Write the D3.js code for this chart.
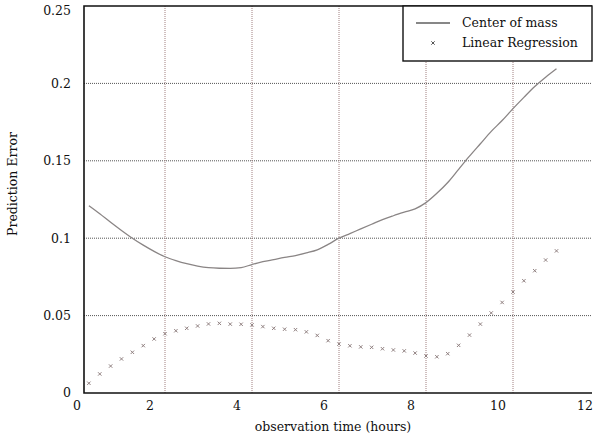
<!DOCTYPE html>
<html>
<head>
<meta charset="utf-8">
<script src="https://cdn.jsdelivr.net/npm/d3@7"></script>
<style>
  body { margin: 0; background: #fff; }
  svg text { font-family: "DejaVu Serif", "Liberation Serif", serif; fill: #111; }
</style>
</head>
<body>
<svg id="chart" width="593" height="440"></svg>
<script>
// observation time (hours)
const hours = [0.25, 0.5, 0.75, 1, 1.25, 1.5, 1.75, 2, 2.25, 2.5, 2.75, 3, 3.25, 3.5, 3.75, 4,
    4.25, 4.5, 4.75, 5, 5.25, 5.5, 5.75, 6, 6.25, 6.5, 6.75, 7, 7.25, 7.5, 7.75, 8,
    8.25, 8.5, 8.75, 9, 9.25, 9.5, 9.75, 10, 10.25, 10.5, 10.75, 11];

// prediction error, center of mass (line)
const centerOfMass = [0.121, 0.1158, 0.1103, 0.105, 0.1, 0.0955, 0.0915, 0.088, 0.0855, 0.0835, 0.082, 0.081,
    0.0806, 0.0805, 0.081, 0.083, 0.0848, 0.0862, 0.0876, 0.0888, 0.0905, 0.0925, 0.096, 0.1,
    0.103, 0.106, 0.109, 0.112, 0.1145, 0.1168, 0.119, 0.123, 0.129, 0.136, 0.1445, 0.153,
    0.161, 0.169, 0.176, 0.1837, 0.191, 0.198, 0.204, 0.2095];

// prediction error, linear regression (x markers)
const linearRegression = [0.0063, 0.0123, 0.0174, 0.022, 0.0263, 0.0306, 0.0349, 0.0383, 0.0402, 0.0418, 0.0433, 0.0446,
    0.045, 0.0445, 0.0444, 0.044, 0.0429, 0.0418, 0.0412, 0.0409, 0.0395, 0.0372, 0.0338, 0.0316,
    0.0305, 0.0298, 0.0295, 0.0286, 0.0278, 0.0272, 0.0258, 0.0239, 0.0234, 0.0254, 0.0308, 0.0374,
    0.0445, 0.0517, 0.0585, 0.0652, 0.0725, 0.079, 0.0859, 0.0918];

const xTicks = [0, 2, 4, 6, 8, 10, 12];
const yTicks = [0, 0.05, 0.1, 0.15, 0.2, 0.25];
const seriesNames = ["Center of mass", "Linear Regression"];

const svg = d3.select("#chart");
const x = d3.scaleLinear().domain([0, 12]).range([78, 600]);
const y = d3.scaleLinear().domain([0, 0.25]).range([393, 6]);
const plotLeft = 84, plotRight = 592, plotTop = y(0.25), plotBottom = y(0);

svg.append("defs").append("clipPath").attr("id", "plot")
    .append("rect").attr("x", plotLeft).attr("y", plotTop)
    .attr("width", plotRight - plotLeft).attr("height", plotBottom - plotTop);

// grid
const grid = svg.append("g");
grid.selectAll("line.h").data(yTicks.slice(1, -1)).enter().append("line")
    .attr("x1", plotLeft).attr("x2", plotRight)
    .attr("y1", d => y(d)).attr("y2", d => y(d))
    .attr("stroke", "#555").attr("stroke-width", 1).attr("stroke-dasharray", "1,1");
grid.selectAll("line.v").data(xTicks.slice(1, -1)).enter().append("line")
    .attr("x1", d => x(d)).attr("x2", d => x(d))
    .attr("y1", plotTop).attr("y2", plotBottom)
    .attr("stroke", "#a08080").attr("stroke-width", 1).attr("stroke-dasharray", "1,1");

// series
const plot = svg.append("g").attr("clip-path", "url(#plot)");
plot.append("path")
    .datum(hours.map((h, i) => [h, centerOfMass[i]]))
    .attr("fill", "none").attr("stroke", "#8a8585").attr("stroke-width", 1.3)
    .attr("d", d3.line().x(d => x(d[0])).y(d => y(d[1])).curve(d3.curveMonotoneX));

const cross = d3.symbol().type(d3.symbolX).size(9);
plot.selectAll("path.pt")
    .data(hours.map((h, i) => [h, linearRegression[i]]))
    .enter().append("path")
    .attr("transform", d => `translate(${x(d[0])},${y(d[1])})`)
    .attr("d", cross)
    .attr("fill", "none").attr("stroke", "#8f7f7f").attr("stroke-width", 1);

// frame
svg.append("path")
    .attr("d", `M${plotRight},${plotTop}H${plotLeft}V${plotBottom}H${plotRight}`)
    .attr("fill", "none").attr("stroke", "#111").attr("stroke-width", 1.6);

// y tick labels
svg.append("g").selectAll("text").data(yTicks).enter().append("text")
    .attr("x", 71).attr("y", d => Math.max(y(d), 11)).attr("dy", "0.35em")
    .attr("text-anchor", "end").attr("font-size", 12.5)
    .text(d => d === 0 ? "0" : String(d));

// x tick labels (printed slightly left of their grid lines in the original)
svg.append("g").selectAll("text").data(xTicks).enter().append("text")
    .attr("x", d => d === 0 ? x(d) - 1 : x(d) - 15).attr("y", 406).attr("dy", "0.35em")
    .attr("text-anchor", "middle").attr("font-size", 12.5)
    .text(d => d);

svg.append("text").attr("x", 333).attr("y", 427).attr("dy", "0.35em")
    .attr("text-anchor", "middle").attr("font-size", 12.5)
    .text("observation time (hours)");

svg.append("text").attr("transform", "translate(13,184) rotate(-90)").attr("dy", "0.35em")
    .attr("text-anchor", "middle").attr("font-size", 12.5)
    .text("Prediction Error");

// legend
const legend = svg.append("g");
legend.append("rect").attr("x", 403).attr("y", plotTop).attr("width", 189).attr("height", 55)
    .attr("fill", "#fff").attr("stroke", "#111").attr("stroke-width", 1.4);
legend.append("line").attr("x1", 416).attr("x2", 450).attr("y1", 23).attr("y2", 23)
    .attr("stroke", "#111").attr("stroke-width", 1.2);
legend.append("path").attr("transform", "translate(433,43)").attr("d", cross)
    .attr("fill", "none").attr("stroke", "#555").attr("stroke-width", 1);
legend.selectAll("text").data(seriesNames).enter().append("text")
    .attr("x", 462).attr("y", (d, i) => 23 + i * 20).attr("dy", "0.35em")
    .attr("font-size", 12.5)
    .text(d => d);
</script>
</body>
</html>
